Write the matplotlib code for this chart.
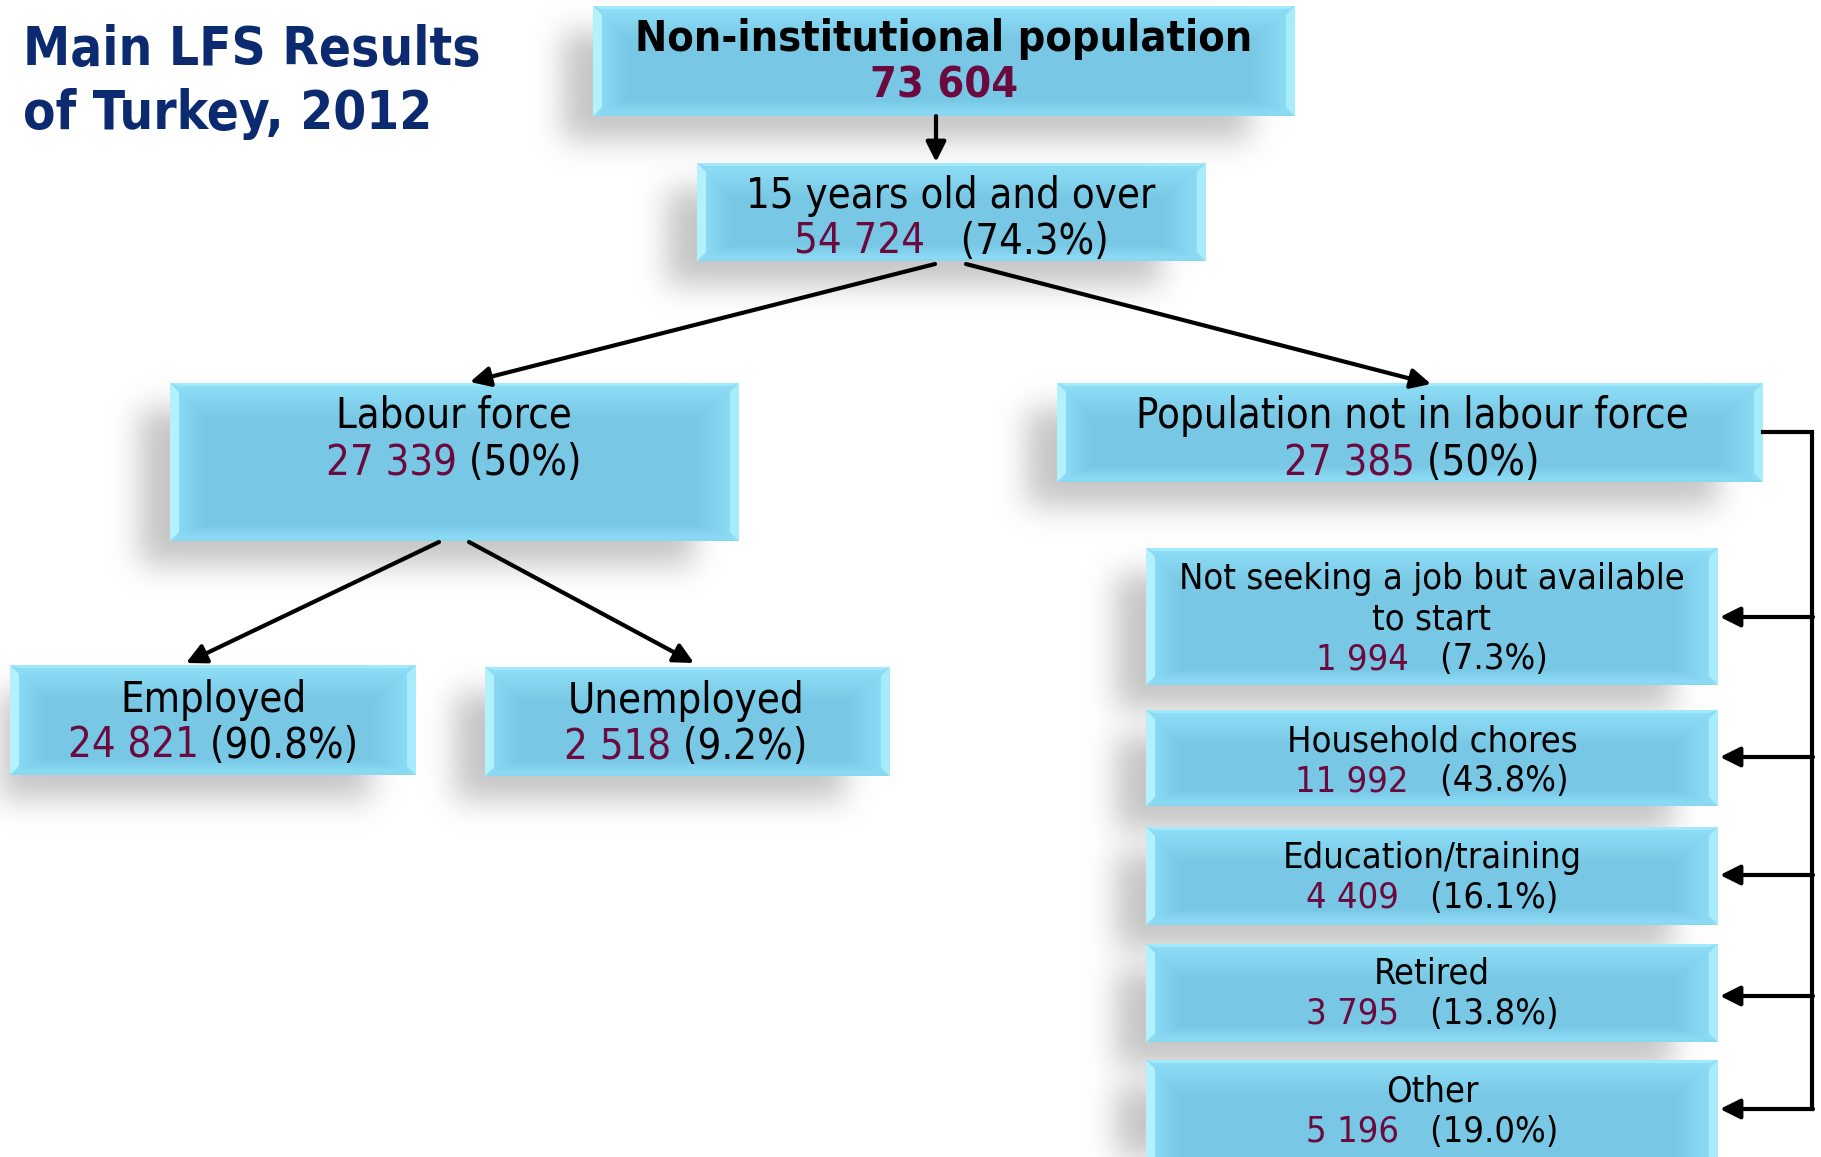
import numpy as np
import matplotlib
matplotlib.use("Agg")
import matplotlib.pyplot as plt
from matplotlib.patches import Polygon
from matplotlib.colors import to_rgb

# ---------------- data ----------------
title_lines = ["Main LFS Results", "of Turkey, 2012"]
node_keys = ["top", "age15", "lf", "nlf", "emp", "unemp", "ns", "hh", "edu", "ret", "oth"]
node_labels = ["Non-institutional population", "15 years old and over", "Labour force",
               "Population not in labour force", "Employed", "Unemployed",
               "Not seeking a job but available\nto start", "Household chores",
               "Education/training", "Retired", "Other"]
node_values = [73604, 54724, 27339, 27385, 24821, 2518, 1994, 11992, 4409, 3795, 5196]
node_shares = [None, "74.3%", "50%", "50%", "90.8%", "9.2%", "7.3%", "43.8%", "16.1%", "13.8%", "19.0%"]
edges = [("top", "age15"), ("age15", "lf"), ("age15", "nlf"), ("lf", "emp"), ("lf", "unemp")]
nlf_children = ["ns", "hh", "edu", "ret", "oth"]

# ---------------- layout (pixels) ----------------
W, H = 1821, 1157
boxes = {
    "top": (593, 6, 1295, 116),
    "age15": (697, 163, 1206, 261),
    "lf": (170, 383, 739, 541),
    "nlf": (1057, 383, 1763, 482),
    "emp": (10, 665, 416, 775),
    "unemp": (485, 667, 890, 776),
    "ns": (1146, 548, 1718, 685),
    "hh": (1146, 710, 1718, 806),
    "edu": (1146, 827, 1718, 925),
    "ret": (1146, 944, 1718, 1042),
    "oth": (1146, 1060, 1718, 1175),
}
text_pos = {  # centre x, first-line y, line step, fontsize, gap
    "top": (944, 39, 46, 31, " "),
    "age15": (951, 196, 46, 30, "   "),
    "lf": (454, 416, 47, 30, " "),
    "nlf": (1412, 416, 47, 30, " "),
    "emp": (213, 700, 46, 30, " "),
    "unemp": (686, 701, 46, 30, " "),
    "ns": (1432, 579, 40, 26, "   "),
    "hh": (1432, 741, 40, 26, "   "),
    "edu": (1432, 858, 40, 26, "   "),
    "ret": (1432, 974, 40, 26, "   "),
    "oth": (1432, 1092, 40, 26, "   "),
}
arrow_pts = {
    ("top", "age15"): ((936, 116), (936, 162)),
    ("age15", "lf"): ((935, 264), (470, 382)),
    ("age15", "nlf"): ((966, 264), (1431, 384)),
    ("lf", "emp"): ((439, 542), (186, 663)),
    ("lf", "unemp"): ((469, 542), (694, 663)),
}
bracket_x = 1812
child_arrow_y = [617, 757, 875, 996, 1109]

NUM_COLOR = "#6b0a3e"
TITLE_COLOR = "#0b2a6f"
FAMILY = ["DejaVu Sans"]
STRETCH = "condensed"
LW = 3.0

fig = plt.figure(figsize=(W / 100, H / 100), dpi=100)
ax = fig.add_axes([0, 0, 1, 1])
ax.set_xlim(0, W)
ax.set_ylim(H, 0)
ax.axis("off")

# ---------------- shadows ----------------
def gblur1d(a, sigma, axis):
    r = int(3 * sigma)
    k = np.exp(-0.5 * (np.arange(-r, r + 1) / sigma) ** 2)
    k /= k.sum()
    return np.apply_along_axis(lambda v: np.convolve(v, k, mode="same"), axis, a)

mask = np.zeros((H, W))
for key, (x0, y0, x1, y1) in boxes.items():
    sx0, sy0, sx1, sy1 = x0 - 30, y0 + 26, x1 - 45, y1 + 24
    mask[max(sy0, 0):min(sy1, H), max(sx0, 0):min(sx1, W)] = 1.0
mask = gblur1d(gblur1d(mask, 15, 0), 15, 1)
shadow = np.zeros((H, W, 4))
shadow[..., :3] = 0.62
shadow[..., 3] = np.clip(mask, 0, 1) * 0.6
ax.imshow(shadow, extent=(0, W, H, 0), origin="upper", zorder=1, interpolation="bilinear")

# ---------------- boxes ----------------
base = np.array(to_rgb("#78c8e5"))
light = np.array(to_rgb("#90e0f9"))
for key, (x0, y0, x1, y1) in boxes.items():
    w, h = x1 - x0, y1 - y0
    xx, yy = np.meshgrid(np.arange(w) + 0.5, np.arange(h) + 0.5)
    d = np.minimum.reduce([xx * 0.9, (w - xx) * 0.7, yy * 0.9, (h - yy) * 2.0])
    t = np.clip(d / 32.0, 0, 1)[..., None]
    img = light * (1 - t) + base * t
    ax.imshow(img, extent=(x0, x1, y1, y0), origin="upper", zorder=2, interpolation="bilinear")
    b = 9
    ax.add_patch(Polygon([(x0, y0), (x0 + b, y0 + b), (x0 + b, y1 - b), (x0, y1)],
                         closed=True, fc="#b3f1fc", ec="none", zorder=3))
    ax.add_patch(Polygon([(x1, y0), (x1 - b, y0 + b), (x1 - b, y1 - b), (x1, y1)],
                         closed=True, fc="#a6ecfb", ec="none", zorder=3))
    ax.add_patch(Polygon([(x0, y0), (x1, y0), (x1 - b, y0 + 3), (x0 + b, y0 + 3)],
                         closed=True, fc="#a2e9fb", ec="none", zorder=3))
    ax.add_patch(Polygon([(x0, y1), (x1, y1), (x1 - b, y1 - 3), (x0 + b, y1 - 3)],
                         closed=True, fc="#8ad8f0", ec="none", zorder=3))

# ---------------- text ----------------
renderer = fig.canvas.get_renderer()

def width_of(t):
    return t.get_window_extent(renderer=renderer).width

def fmt(v):
    return f"{v:,}".replace(",", " ")

for key, label, val, share in zip(node_keys, node_labels, node_values, node_shares):
    cx, y, step, fs, gap = text_pos[key]
    weight = "bold" if key == "top" else "normal"
    lines = label.split("\n")
    for ln in lines:
        ax.text(cx, y, ln, ha="center", va="center", fontsize=fs, family=FAMILY,
                fontstretch=STRETCH, fontweight=weight, color="black", zorder=5)
        y += step
    if share is None:
        ax.text(cx, y, fmt(val), ha="center", va="center", fontsize=fs, family=FAMILY,
                fontstretch=STRETCH, fontweight=weight, color=NUM_COLOR, zorder=5)
    else:
        t1 = ax.text(0, y, fmt(val), ha="left", va="center", fontsize=fs, family=FAMILY,
                     fontstretch=STRETCH, color=NUM_COLOR, zorder=5)
        t2 = ax.text(0, y, gap + "(" + share + ")", ha="left", va="center", fontsize=fs,
                     family=FAMILY, fontstretch=STRETCH, color="black", zorder=5)
        w1, w2 = width_of(t1), width_of(t2)
        start = cx - (w1 + w2) / 2
        t1.set_x(start)
        t2.set_x(start + w1)

# title
for i, ln in enumerate(title_lines):
    ax.text(23, 50 + i * 64, ln, ha="left", va="center", fontsize=38, family=FAMILY,
            fontstretch=STRETCH, fontweight="bold", color=TITLE_COLOR, zorder=5)

# ---------------- arrows ----------------
aprops = dict(arrowstyle="-|>", color="black", lw=LW, mutation_scale=30, shrinkA=0, shrinkB=0)
for e in edges:
    (sx, sy), (ex, ey) = arrow_pts[e]
    ax.annotate("", xy=(ex, ey), xytext=(sx, sy), arrowprops=aprops, zorder=6)

nlf_box = boxes["nlf"]
bracket_top = (nlf_box[1] + nlf_box[3]) / 2 - 1
ax.plot([nlf_box[2], bracket_x, bracket_x], [bracket_top, bracket_top, child_arrow_y[-1]],
        color="black", lw=LW, zorder=6, solid_joinstyle="miter")
for key, yy in zip(nlf_children, child_arrow_y):
    ax.annotate("", xy=(boxes[key][2] + 2, yy), xytext=(bracket_x + 1, yy), arrowprops=aprops, zorder=6)

fig.savefig("out.png", dpi=100, facecolor="white")
